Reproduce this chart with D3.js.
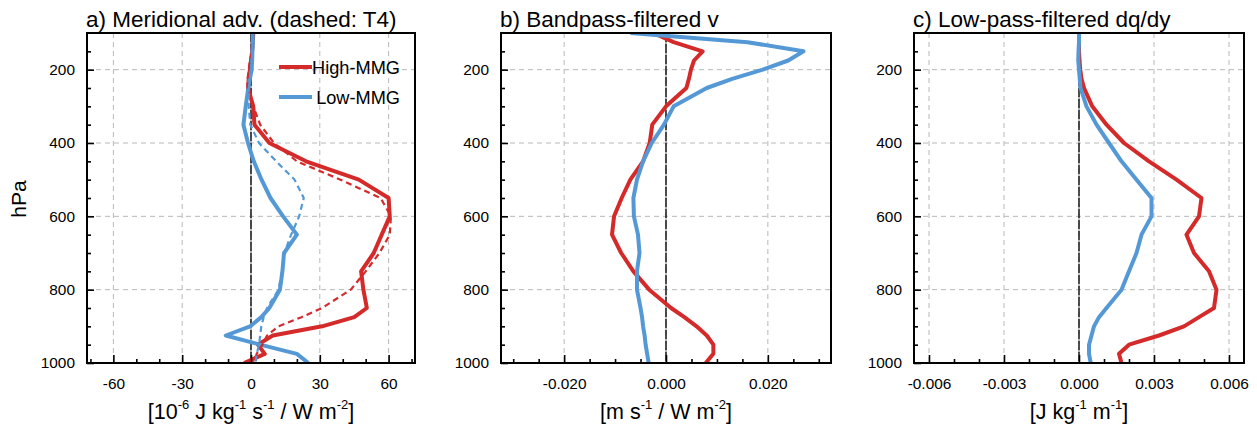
<!DOCTYPE html>
<html>
<head>
<meta charset="utf-8">
<script src="https://cdn.jsdelivr.net/npm/d3@7"></script>
<style>
  html, body { margin: 0; padding: 0; background: #fff; }
  svg { display: block; font-family: "Liberation Sans", Arial, Helvetica, sans-serif; }
</style>
</head>
<body>
<svg id="chart" width="1257" height="425"></svg>
<script>
// ---------------- DATA ----------------
const levels = [100,125,150,175,200,225,250,300,350,400,450,500,550,600,650,700,750,800,850,875,900,925,950,975,1000];

// a) Meridional advection (10^-6 J kg-1 s-1 / W m-2)
const aHigh   = [1,0.8,0.5,0,-0.5,-1,-1.3,1,1.5,8,24,47,60,60.5,57,53.5,48,49,50.5,45,31,9.5,3,6,-3];
const aLow    = [0.8,0.8,0.6,0.5,0.3,-0.5,-1.2,-2.3,-3.3,-1.3,1.2,4.6,8.5,14,20,14.4,13.7,12.6,8,4.5,-0.4,-11,4,20,25];
const aHighT4 = [1,0.8,0.5,-0.5,-1,-1.5,-1.5,1,4,10,20,39,56.5,61,60.5,56,50,43.5,31,22,12,7,5,2.5,1];
const aLowT4  = [0.8,0.8,0.6,0.3,0,-0.5,-1,-1,-0.3,3.5,11,19,23,21,17.5,14.5,13.5,12,7,5.5,4.5,4,3.5,2.5,2];

// b) Bandpass-filtered v (m s-1 / W m-2)
const bHigh = [-0.0025,0.0015,0.0072,0.0055,0.0049,0.0045,0.004,0.0,-0.0027,-0.0032,-0.0045,-0.007,-0.0087,-0.0102,-0.0106,-0.0088,-0.0064,-0.0033,0.001,0.0036,0.006,0.008,0.0093,0.0093,0.0078];
const bLow  = [-0.007,0.016,0.027,0.024,0.019,0.013,0.008,0.0015,-0.0004,-0.0028,-0.0045,-0.0057,-0.0064,-0.0063,-0.0055,-0.0052,-0.0057,-0.0057,-0.005,-0.0047,-0.0045,-0.0042,-0.004,-0.0037,-0.0034];

// c) Low-pass-filtered dq/dy (J kg-1 m-1)
const cHigh = [0,0,0,0.00002,0.00005,0.0001,0.0002,0.00053,0.0011,0.0018,0.0028,0.0039,0.0049,0.0048,0.0043,0.0046,0.0052,0.0055,0.0054,0.0048,0.0042,0.0032,0.002,0.0016,0.0017];
const cLow  = [0,0,-0.00002,-0.00003,0,0.00003,0.00006,0.0003,0.0007,0.0012,0.0017,0.0023,0.0029,0.0029,0.0025,0.0023,0.002,0.0017,0.0011,0.0008,0.0006,0.0005,0.0004,0.0004,0.00047];

// tick values / labels
const yMajor = [200,400,600,800,1000];
const yMinor = [150,250,300,350,450,500,550,650,700,750,850,900,950];
const aTicks = [-60,-30,0,30,60];
const aMinor = [-70,-50,-40,-20,-10,10,20,40,50,70];
const bTicks = [-0.02,0,0.02];
const bTickLabels = ["-0.020","0.000","0.020"];
const bMinor = [-0.03,-0.025,-0.015,-0.01,-0.005,0.005,0.01,0.015,0.025,0.03];
const cTicks = [-0.006,-0.003,0,0.003,0.006];
const cTickLabels = ["-0.006","-0.003","0.000","0.003","0.006"];
const cMinor = [-0.005,-0.004,-0.002,-0.001,0.001,0.002,0.004,0.005];

const titles = ["a) Meridional adv. (dashed: T4)", "b) Bandpass-filtered v", "c) Low-pass-filtered dq/dy"];
const legendLabels = ["High-MMG", "Low-MMG"];

// ---------------- STYLE / LAYOUT ----------------
const RED = "#d42a2a", BLUE = "#5499d5";
const svg = d3.select("#chart");
const yTop = 33, yBot = 363;
const y = d3.scaleLinear().domain([100,1000]).range([yTop, yBot]);

const panels = [
  {x0: 87,  x1: 415,  dom: [-71.5, 71.5],     ticks: aTicks, labels: aTicks.map(String), minor: aMinor,
   series: [{v: aHigh, c: RED}, {v: aLow, c: BLUE}, {v: aHighT4, c: RED, dash: true}, {v: aLowT4, c: BLUE, dash: true}],
   xlabel: [["[10",""],["-6","sup"],[" J kg",""],["-1","sup"],[" s",""],["-1","sup"],[" / W m",""],["-2","sup"],["]",""]]},
  {x0: 501, x1: 831,  dom: [-0.0324, 0.0324], ticks: bTicks, labels: bTickLabels, minor: bMinor,
   series: [{v: bHigh, c: RED}, {v: bLow, c: BLUE}],
   xlabel: [["[m s",""],["-1","sup"],[" / W m",""],["-2","sup"],["]",""]]},
  {x0: 914, x1: 1244, dom: [-0.0066, 0.0066], ticks: cTicks, labels: cTickLabels, minor: cMinor,
   series: [{v: cHigh, c: RED}, {v: cLow, c: BLUE}],
   xlabel: [["[J kg",""],["-1","sup"],[" m",""],["-1","sup"],["]",""]]}
];

const defs = svg.append("defs");

panels.forEach((p, i) => {
  const x = d3.scaleLinear().domain(p.dom).range([p.x0, p.x1]);
  const g = svg.append("g");

  defs.append("clipPath").attr("id", "clip" + i)
    .append("rect").attr("x", p.x0).attr("y", yTop).attr("width", p.x1 - p.x0).attr("height", yBot - yTop);

  // grid
  g.append("g").selectAll("line").data(p.ticks).join("line")
    .attr("x1", d => x(d)).attr("x2", d => x(d)).attr("y1", yTop).attr("y2", yBot)
    .attr("stroke", "#b8b8b8").attr("stroke-width", 1).attr("stroke-dasharray", "5,4");
  g.append("g").selectAll("line").data(yMajor.filter(d => d < 1000)).join("line")
    .attr("x1", p.x0).attr("x2", p.x1).attr("y1", d => y(d)).attr("y2", d => y(d))
    .attr("stroke", "#b8b8b8").attr("stroke-width", 1).attr("stroke-dasharray", "5,4");

  // zero reference line
  g.append("line").attr("x1", x(0)).attr("x2", x(0)).attr("y1", yTop).attr("y2", yBot)
    .attr("stroke", "#888").attr("stroke-width", 1);
  g.append("line").attr("x1", x(0)).attr("x2", x(0)).attr("y1", yTop).attr("y2", yBot)
    .attr("stroke", "#000").attr("stroke-width", 1.2).attr("stroke-dasharray", "9,2");

  // data lines
  const lines = g.append("g").attr("clip-path", `url(#clip${i})`);
  p.series.forEach(s => {
    const pts = levels.map((lv, k) => [s.v[k], lv]);
    const line = d3.line().x(d => x(d[0])).y(d => y(d[1]));
    lines.append("path").datum(pts).attr("d", line)
      .attr("fill", "none").attr("stroke", s.c)
      .attr("stroke-width", s.dash ? 2.2 : 4)
      .attr("stroke-linejoin", "round")
      .attr("stroke-dasharray", s.dash ? "6,4" : null);
  });

  // axes (inward ticks)
  const xAxis = d3.axisBottom(x).tickValues(p.ticks).tickFormat((d, k) => p.labels[k])
    .tickSizeInner(-8).tickSizeOuter(0).tickPadding(15);
  const xa = g.append("g").attr("transform", `translate(0,${yBot})`).call(xAxis);
  const xAxisMinor = d3.axisBottom(x).tickValues(p.minor).tickFormat("").tickSizeInner(-4).tickSizeOuter(0);
  const xm = g.append("g").attr("transform", `translate(0,${yBot})`).call(xAxisMinor);

  const yAxis = d3.axisLeft(y).tickValues(yMajor).tickFormat(d3.format("d"))
    .tickSizeInner(-7).tickSizeOuter(0).tickPadding(12);
  const ya = g.append("g").attr("transform", `translate(${p.x0},0)`).call(yAxis);
  const yAxisMinor = d3.axisLeft(y).tickValues(yMinor).tickFormat("").tickSizeInner(-4).tickSizeOuter(0);
  const ym = g.append("g").attr("transform", `translate(${p.x0},0)`).call(yAxisMinor);

  [xa, xm, ya, ym].forEach(a => {
    a.select(".domain").remove();
    a.selectAll(".tick line").attr("stroke", "#000").attr("stroke-width", 1.6);
    a.selectAll("text").attr("font-size", 15.4).attr("fill", "#000")
      .attr("font-family", '"Liberation Sans", Arial, Helvetica, sans-serif');
  });

  // frame
  g.append("rect").attr("x", p.x0).attr("y", yTop).attr("width", p.x1 - p.x0).attr("height", yBot - yTop)
    .attr("fill", "none").attr("stroke", "#000").attr("stroke-width", 2);

  // title
  g.append("text").attr("x", p.x0 - 1).attr("y", 26.5).attr("font-size", 22.5).text(titles[i]);

  // x label
  const xl = g.append("text").attr("x", (p.x0 + p.x1) / 2).attr("y", 419)
    .attr("text-anchor", "middle").attr("font-size", 21.5);
  p.xlabel.forEach(([t, kind]) => {
    if (kind === "sup") xl.append("tspan").attr("font-size", 13).attr("dy", -10).text(t);
    else {
      const ts = xl.append("tspan").text(t);
      if (xl.selectAll("tspan").size() > 1) ts.attr("dy", 10);
    }
  });
});

// y label
svg.append("text").attr("transform", "translate(26,199) rotate(-90)")
  .attr("text-anchor", "middle").attr("font-size", 21).text("hPa");

// legend (panel a)
const lg = svg.append("g");
[[RED, 67], [BLUE, 97]].forEach(([c, yy], k) => {
  lg.append("line").attr("x1", 279).attr("x2", 312).attr("y1", yy).attr("y2", yy)
    .attr("stroke", c).attr("stroke-width", 4);
  lg.append("text").attr("x", 400).attr("y", yy + 6.5).attr("text-anchor", "end")
    .attr("font-size", 18.2).text(legendLabels[k]);
});
</script>
</body>
</html>
